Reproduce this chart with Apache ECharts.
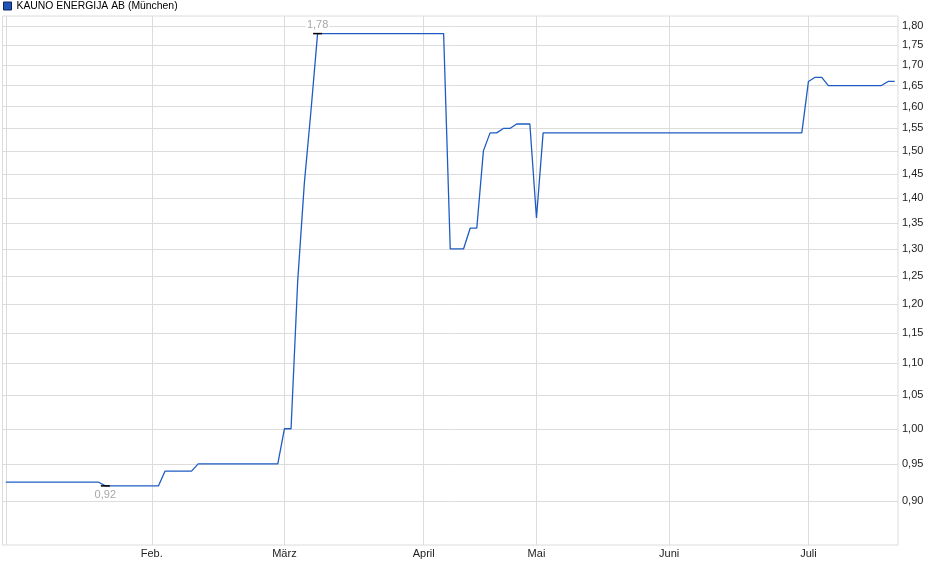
<!DOCTYPE html>
<html>
<head>
<meta charset="utf-8">
<title>KAUNO ENERGIJA AB (München)</title>
<script src="https://cdn.jsdelivr.net/npm/echarts@6/dist/echarts.min.js"></script>
<style>
    html, body {margin: 0; padding: 0; background: #fff;}
    #chart {width: 940px; height: 579px;}
</style>
</head>
<body>
<div id="chart"></div>
<script>
var seriesName = 'KAUNO ENERGIJA AB (München)';

/* handelstage (index) und kurse */
var dayIdx = [0, 14, 15, 23, 24, 28, 29, 41, 42, 43, 44, 45, 46, 47, 66, 67, 69, 70, 71, 72,
    73, 74, 75, 76, 77, 79, 80, 81, 120, 121, 122, 123, 124, 132, 133, 134];
var prices = [0.925, 0.925, 0.92, 0.92, 0.94, 0.94, 0.95, 0.95, 1.00, 1.00, 1.24, 1.43, 1.59, 1.78, 1.78, 1.30, 1.30, 1.34, 1.34, 1.50,
    1.54, 1.54, 1.55, 1.55, 1.56, 1.56, 1.36, 1.54, 1.54, 1.66, 1.67, 1.67, 1.65, 1.65, 1.66, 1.66];

var monthIdx = [22, 42, 63, 80, 100, 121];
var monthLabels = ['Feb.', 'März', 'April', 'Mai', 'Juni', 'Juli'];

var yTicks = [0.90, 0.95, 1.00, 1.05, 1.10, 1.15, 1.20, 1.25, 1.30, 1.35, 1.40,
    1.45, 1.50, 1.55, 1.60, 1.65, 1.70, 1.75, 1.80];
var yMin = 0.844, yMax = 1.8263;

var highIdx = 47, highPrice = 1.78;
var lowIdx = 15, lowPrice = 0.92;

function fmt(v){
    return v.toFixed(2).replace('.', ',');
}

/* log-skala: werte als ln auf einer value-achse */
var lineData = dayIdx.map(function(d, i){
    return [d, Math.log(prices[i])];
});

var textFont = {fontFamily: 'Liberation Sans, Arial, sans-serif', fontSize: 11};

var chart = echarts.init(document.getElementById('chart'), null, {renderer: 'canvas'});

chart.setOption({
    animation: false,
    legend: {
        left: 3,
        top: 1,
        itemWidth: 8,
        itemHeight: 8,
        itemGap: 4,
        padding: 0,
        textStyle: {color: '#000', fontFamily: 'Liberation Sans, Arial, sans-serif', fontSize: 10.4, padding: [1, 0, 0, 0]},
        data: [{name: seriesName, icon: 'rect', itemStyle: {color: '#1f53b4', borderColor: '#0b2460', borderWidth: 1}}]
    },
    grid: {
        left: 2.5,
        right: 42,
        top: 16,
        bottom: 34,
        show: true,
        borderColor: '#dcdcdc',
        borderWidth: 1
    },
    xAxis: {
        type: 'value',
        min: -0.5,
        max: 134.5,
        axisLine: {show: false},
        axisTick: {show: false, customValues: [0].concat(monthIdx)},
        axisLabel: Object.assign({
            customValues: monthIdx,
            color: '#222',
            margin: 3,
            formatter: function(v){
                var i = monthIdx.indexOf(Math.round(v));
                return i >= 0 ? monthLabels[i] : '';
            }
        }, textFont),
        splitLine: {show: true, lineStyle: {color: '#dcdcdc', width: 1}}
    },
    yAxis: {
        type: 'value',
        position: 'right',
        min: Math.log(yMin),
        max: Math.log(yMax),
        axisLine: {show: false},
        axisTick: {show: false, customValues: yTicks.map(Math.log)},
        axisLabel: Object.assign({
            customValues: yTicks.map(Math.log),
            color: '#222',
            margin: 4,
            formatter: function(v){
                return fmt(Math.exp(v));
            }
        }, textFont),
        splitLine: {show: true, lineStyle: {color: '#dcdcdc', width: 1}}
    },
    series: [{
        name: seriesName,
        type: 'line',
        data: lineData,
        showSymbol: false,
        symbol: 'none',
        silent: true,
        lineStyle: {color: '#1f5cc2', width: 1.3},
        itemStyle: {color: '#1f53b4'},
        markPoint: {
            silent: true,
            symbol: 'rect',
            symbolSize: [9, 1.5],
            itemStyle: {color: '#000'},
            label: Object.assign({
                show: true,
                color: '#a8a8a8',
                backgroundColor: '#fff',
                padding: [0, 1]
            }, textFont),
            data: [
                {coord: [highIdx, Math.log(highPrice)], label: {position: 'top', distance: 2, formatter: fmt(highPrice)}},
                {coord: [lowIdx, Math.log(lowPrice)], label: {position: 'bottom', distance: 3, formatter: fmt(lowPrice)}}
            ]
        }
    }]
});
</script>
</body>
</html>
